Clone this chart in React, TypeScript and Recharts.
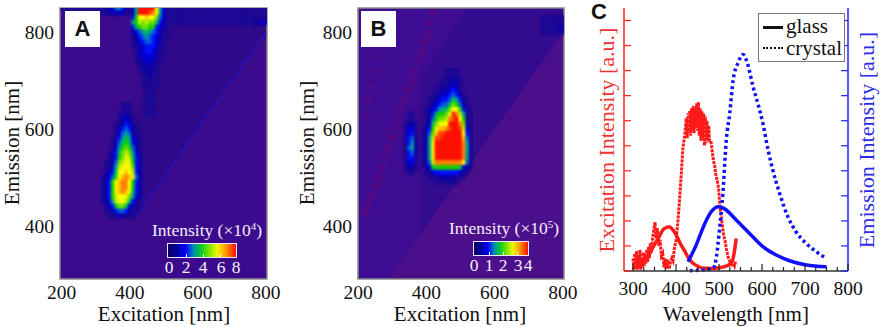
import React from "react";
import { ComposedChart, XAxis, YAxis, Scatter, Area, Line, ReferenceArea } from "recharts";

const SERIF = "'Liberation Serif', serif";
const PALETTE = ["none","#1c0894","#0c00a8","#0000d4","#0010ff","#0060d8","#00a098","#00c050","#18d000","#70e000","#c0f000","#f0f800","#ffff00","#ffc000","#ff8000","#ff4000","#ff1000"];

const emissionTicks = [400, 600, 800];
const excitationTicks = [200, 400, 600, 800];

// Heat map rows: first row is at yTop, going down 10 nm a row; each char a level 0..g
const aBlobRows = ["000000111000","000000111000","000001121100","000001232100","000011243110","000012454210","000013565211","000114676321","000125787421","000136898521","0011479a9632","0012489ba742","011259abb842","01136abcb942","01247bcdca42","12358bdedb52","1248bdeec842","1248bdeec842","1248bdedb742","1248accb9632","1236abba7421","012479973211","011245542110","001112211100"];
const aTopRows = ["26gggggc631","26gggfeb631","48ccdcb9531","68a9a997421","47899884321","23567654211","12456543211","12345543210","11234443110","01234432110","01233332100","01123321100","00122221000","00112211000","00011211000","00011111000","00011111000","00001110000","00001110000","00001110000","00001110000","00001110000","00001110000"];
const aTopLeftRows = ["111111111111122356421","000000000011112223211"];
const aTopRightRows = ["11111111111111111111111111111","11111111111111111111111111111","11111111111111111111111111111","11111111111111111111111112223"];
const bMainRows = ["000000011110000","000000011110000","000000112221000","000001112321000","000011223431000","000112334542100","001123445764110","001234557985210","012346679cb8411","01147889bgea611","0125899aefgc811","01379bbcggge921","0248bddefggfa31","1259dffgggggc41","126affggggggd51","126bgggggggge61","126bgggggggge61","126bgggggggge61","126bgggggggge61","125aeeeeeeeec51","023788888887321","011344444443110","001112222211100","000011111110000"];
const bSideRows = ["001100","001100","012210","013310","013410","014510","014620","015620","014520","014410","013310","012210","001100"];
const bRightRows = ["1111111","1111111","1111122","1111111"];
const chainX = [419, 410, 405, 396, 386, 376, 366, 357, 347, 337, 327, 318, 308, 298, 288, 279, 270, 260, 250, 240, 230, 220];
const chainY = [840, 820, 798, 780, 760, 740, 719, 700, 681, 662, 643, 623, 603, 582, 561, 540, 520, 500, 481, 462, 445, 427];
const chain2X = [259, 250, 240, 230, 220];
const chain2Y = [750, 719, 688, 660, 633];

const expand = (rows: string[], x0: number, yTop: number) =>
  rows.flatMap((r, i) => r.split("").map((c, j) => ({ x: x0 + j * 10, y: yTop - i * 10, v: parseInt(c, 17) }))).filter((d) => d.v > 0);

const heatA = [...expand(aBlobRows, 320, 650), ...expand(aTopRows, 410, 850), ...expand(aTopLeftRows, 200, 850), ...expand(aTopRightRows, 520, 850)];
const heatB = [...expand(bMainRows, 390, 720), ...expand(bSideRows, 330, 630), ...expand(bRightRows, 740, 830)];
const chainData = chainX.map((x, i) => ({ x, y: chainY[i] }));
const chain2Data = chain2X.map((x, i) => ({ x, y: chain2Y[i] }));

const aTint = [{ x: 420, band: [420, 620] }, { x: 480, band: [480, 830] }, { x: 800, band: [800, 850] }];
const aDiag = [{ x: 420, y: 420 }, { x: 800, y: 800 }, { x: 803, y: 803 }];
const bLower = [{ x: 293, band: [290, 293] }, { x: 803, band: [290, 803] }];
const bTint = [{ x: 380, band: [380, 700] }, { x: 520, band: [520, 850] }, { x: 803, band: [803, 850] }];

const cellW = 3.4;
const cellH = 4.84;
const HeatCell = (p: any) => (
  <rect x={p.cx - cellW / 2 - 0.3} y={p.cy - cellH / 2 - 0.3} width={cellW + 0.6} height={cellH + 0.6} fill={PALETTE[p.payload.v]} />
);
const ChainCell = (p: any) => <rect x={p.cx - 3.5} y={p.cy - 3.5} width={7} height={7} fill="#520a84" />;
const Chain2Cell = (p: any) => <rect x={p.cx - 3.5} y={p.cy - 3.5} width={7} height={7} fill="#4a0c88" />;

const tickStyle = { fontFamily: SERIF, fontSize: 19.5, fill: "#111" };

function Heat({ left, width, margin, domain, bg, heat, cls, extraBefore, extraAfter }: any) {
  return (
    <div style={{ position: "absolute", left, top: 0 }}>
      <ComposedChart width={width} height={327} margin={margin}>
        <XAxis dataKey="x" type="number" domain={domain} ticks={excitationTicks} tickSize={0} tickMargin={6} axisLine={false} height={48} tick={tickStyle} interval={0} />
        <YAxis dataKey="y" type="number" domain={[290, 850]} ticks={emissionTicks} tickSize={0} tickMargin={6} axisLine={false} width={60} tick={tickStyle} interval={0} />
        <ReferenceArea x1={domain[0]} x2={domain[1]} y1={290} y2={850} fill={bg} fillOpacity={1} stroke="none" />
        {extraBefore}
        <Scatter className={cls} data={heat} dataKey="y" shape={HeatCell} isAnimationActive={false} />
        {extraAfter}
        <ReferenceArea x1={domain[0]} x2={domain[1]} y1={290} y2={850} fill="none" stroke="#8a8a8a" strokeWidth={1.5} />
      </ComposedChart>
    </div>
  );
}

// Panel C
const excGlassX = [300, 310, 320, 330, 340, 350, 360, 370, 380, 384, 390, 400, 410, 420, 430, 440, 450, 460, 480, 500, 520, 530, 535, 540];
const excGlassV = [0.1, 0.2, 0.25, 0.45, 0.75, 1.05, 1.35, 1.65, 1.75, 1.77, 1.7, 1.45, 1.1, 0.8, 0.5, 0.3, 0.2, 0.12, 0.1, 0.13, 0.22, 0.35, 0.7, 1.3];
const excCrystalX = [300, 302, 304, 306, 308, 310, 312, 314, 316, 318, 320, 322, 324, 326, 328, 330, 332, 334, 336, 338, 340, 342, 345, 348, 351, 354, 357, 360, 363, 366, 369, 372, 375, 378, 381, 384, 387, 390, 393, 396, 400, 404, 408, 412, 416, 420, 424, 426, 428, 430, 432, 434, 436, 438, 440, 442, 444, 446, 448, 450, 452, 454, 456, 458, 460, 462, 464, 466, 468, 470, 472, 474, 476, 478, 481, 484, 487, 490, 493, 496, 499, 502, 505, 508, 511, 514, 517, 521, 526, 530, 533, 536, 539];
const excCrystalV = [0.5, 0.05, 0.7, 0.1, 0.8, 0.05, 0.6, 0.1, 0.85, 0.05, 0.5, 0.15, 0.75, 0.2, 0.65, 0.3, 0.85, 0.35, 0.95, 0.5, 1.1, 0.7, 1.2, 1.6, 1.95, 1.3, 1.7, 1.0, 1.25, 0.6, 0.7, 0.15, 0.5, 0.1, 0.45, 0.08, 0.35, 0.5, 0.4, 0.9, 1.2, 1.9, 2.8, 3.8, 4.9, 5.4, 6.1, 5.3, 6.3, 5.5, 6.4, 5.4, 6.5, 5.6, 6.6, 5.5, 6.5, 5.7, 6.7, 5.6, 6.75, 5.4, 6.5, 5.2, 6.4, 5.3, 6.3, 5.0, 6.2, 5.1, 6.0, 5.2, 5.8, 5.2, 5.2, 4.8, 4.4, 4.2, 3.8, 3.6, 3.3, 2.6, 2.2, 1.8, 1.4, 1.2, 0.9, 0.57, 0.35, 0.25, 0.3, 0.2, 0.4];
const emGlassX = [428, 447, 467, 482, 498, 513, 540, 571, 602, 633, 664, 703, 750];
const emGlassV = [0.37, 1.04, 1.9, 2.37, 2.57, 2.48, 2.04, 1.5, 0.97, 0.64, 0.41, 0.24, 0.17];
const emCrystalX = [432, 486, 494, 501, 509, 517, 525, 533, 544, 556, 567, 579, 590, 602, 614, 625, 641, 660, 679, 703, 726, 750];
const emCrystalV = [0.01, 0.1, 0.57, 1.64, 3.1, 5.24, 6.3, 7.64, 8.3, 8.64, 8.24, 7.37, 6.7, 5.9, 4.84, 4.04, 3.1, 2.17, 1.57, 1.1, 0.77, 0.5];
const zip = (xs: number[], vs: number[]) => xs.map((x, i) => ({ x, v: vs[i] }));

const wavelengthTicks = [300, 325, 350, 375, 400, 425, 450, 475, 500, 525, 550, 575, 600, 625, 650, 675, 700, 725, 750, 775, 800];
const intensityTicks = [0, 1, 2, 3, 4, 5, 6, 7, 8, 9, 10];

const BottomTick = (p: any) => {
  const major = p.payload.value % 100 === 0;
  return (
    <g>
      <line x1={p.x} x2={p.x} y1={271} y2={major ? 264 : 267} stroke="#222" strokeWidth={1.2} />
      {major && <text x={p.x} y={295} textAnchor="middle" {...tickStyle}>{p.payload.value}</text>}
    </g>
  );
};
const TopTick = (p: any) => {
  const major = p.payload.value % 100 === 0;
  return <line x1={p.x} x2={p.x} y1={8.5} y2={major ? 15 : 12} stroke="#222" strokeWidth={1.2} />;
};
const LeftTick = (p: any) => <line x1={60} x2={67} y1={p.y} y2={p.y} stroke="#ff2020" strokeWidth={1.2} />;
const RightTick = (p: any) => <line x1={284} x2={277} y1={p.y} y2={p.y} stroke="#2020ff" strokeWidth={1.2} />;

const abs = (left: number, top: number, extra: any = {}) => ({ position: "absolute", left, top, fontFamily: SERIF, whiteSpace: "nowrap", lineHeight: 1, ...extra });

const gradient = "linear-gradient(90deg,#0a0060 0%,#0000a0 14%,#0000ff 26%,#0090b0 38%,#00c830 48%,#60e000 58%,#f0f800 72%,#ff9000 86%,#ff1000 100%)";

function ColorBar({ sup, tx, ty, bx, by, bw, bh, labels, tickFracs }: any) {
  return (
    <>
      <div style={abs(tx, ty, { color: "#f4eefa", fontSize: 17.5 })}>
        Intensity (×10<span style={{ fontSize: 11, position: "relative", top: -6 }}>{sup}</span>)
      </div>
      <div style={{ position: "absolute", left: bx, top: by, width: bw, height: bh, boxSizing: "border-box", border: "1.5px solid #f0e8f8", background: gradient }}>
        {tickFracs.map((f: number) => (
          <div key={f} style={{ position: "absolute", left: `${f * 100}%`, bottom: 0, width: 1, height: 3, background: "#fff" }} />
        ))}
      </div>
      {labels.map(([t, x]: any) => (
        <div key={t} style={abs(x, by + bh + 1, { color: "#f4eefa", fontSize: 17.5, transform: "translateX(-50%)" })}>{t}</div>
      ))}
    </>
  );
}

const axisTitle = (t: string, cx: number, cy: number, size: number, color: string, rot: boolean) => (
  <div style={abs(cx, cy, { fontSize: size, color, transform: `translate(-50%,-50%)${rot ? " rotate(-90deg)" : ""}` })}>{t}</div>
);

const panelLabel = (t: string, left: number, top: number, box: boolean) => (
  <div style={{ position: "absolute", left, top, width: box ? 35 : 22, height: box ? 36 : 22, lineHeight: 1, background: box ? "#fff" : "none", fontFamily: "'Liberation Sans', sans-serif", fontWeight: 700, fontSize: 22, color: "#111", display: "flex", alignItems: "center", justifyContent: "center" }}>{t}</div>
);

export default function App() {
  return (
    <div style={{ position: "absolute", left: 0, top: 0, width: 880, height: 327, overflow: "hidden", background: "#fff" }}>
      <style>{`.heatA { filter: blur(1.2px); clip-path: url(#clipA); } .heatB { filter: blur(1.2px); clip-path: url(#clipB); }`}</style>
      <svg width={0} height={0} style={{ position: "absolute" }}>
        <defs>
          <clipPath id="clipA"><rect x={60} y={8} width={207} height={271} /></clipPath>
          <clipPath id="clipB"><rect x={60} y={8} width={206} height={271} /></clipPath>
        </defs>
      </svg>
      <Heat left={0} width={290} margin={{ top: 8, right: 23, bottom: 0, left: 0 }} domain={[195, 803]} bg="#3c0a8c" heat={heatA} cls="heatA"
        extraBefore={<Area data={aTint} dataKey="band" stroke="none" fill="#1c0a88" fillOpacity={0.45} isAnimationActive={false} dot={false} activeDot={false} />}
        extraAfter={<Line data={aDiag} dataKey="y" stroke="#1a18d0" strokeWidth={2} strokeDasharray="3 3" dot={false} activeDot={false} isAnimationActive={false} />} />
      <Heat left={298} width={290} margin={{ top: 8, right: 24, bottom: 0, left: 0 }} domain={[200, 803]} bg="#3d0c92" heat={heatB} cls="heatB"
        extraBefore={<>
          <Area data={bLower} dataKey="band" stroke="none" fill="#4c0f8c" fillOpacity={1} isAnimationActive={false} dot={false} activeDot={false} />
          <Area data={bTint} dataKey="band" stroke="none" fill="#2a0a8c" fillOpacity={0.5} isAnimationActive={false} dot={false} activeDot={false} />
          <Scatter data={chainData} dataKey="y" shape={ChainCell} isAnimationActive={false} />
          <Scatter data={chain2Data} dataKey="y" shape={Chain2Cell} isAnimationActive={false} />
        </>} />

      <div style={{ position: "absolute", left: 564, top: 0 }}>
        <ComposedChart width={316} height={327} margin={{ top: 8, right: 0, bottom: 0, left: 0 }}>
          <XAxis xAxisId="b" dataKey="x" type="number" domain={[279, 800]} ticks={wavelengthTicks} interval={0} height={56} axisLine={{ stroke: "#333", strokeWidth: 1.5 }} tickLine={false} tick={BottomTick} />
          <XAxis xAxisId="t" orientation="top" dataKey="x" type="number" domain={[279, 800]} ticks={wavelengthTicks} interval={0} height={0} axisLine={{ stroke: "#333", strokeWidth: 1.5 }} tickLine={false} tick={TopTick} />
          <YAxis yAxisId="l" type="number" domain={[0, 10.5]} ticks={intensityTicks} interval={0} width={60} axisLine={{ stroke: "#ff2020", strokeWidth: 1.5 }} tickLine={false} tick={LeftTick} />
          <YAxis yAxisId="r" orientation="right" type="number" domain={[0, 10.5]} ticks={intensityTicks} interval={0} width={32} axisLine={{ stroke: "#2020ff", strokeWidth: 1.5 }} tickLine={false} tick={RightTick} />
          <Line xAxisId="b" yAxisId="l" data={zip(excCrystalX, excCrystalV)} dataKey="v" stroke="#ff1a1a" strokeWidth={3} strokeDasharray="3 1" dot={false} activeDot={false} isAnimationActive={false} />
          <Line xAxisId="b" yAxisId="l" data={zip(excGlassX, excGlassV)} dataKey="v" stroke="#ff1a1a" strokeWidth={3.5} type="monotone" dot={false} activeDot={false} isAnimationActive={false} />
          <Line xAxisId="b" yAxisId="r" data={zip(emCrystalX, emCrystalV)} dataKey="v" stroke="#1010ff" strokeWidth={3.5} strokeDasharray="3 3" type="monotone" dot={false} activeDot={false} isAnimationActive={false} />
          <Line xAxisId="b" yAxisId="r" data={zip(emGlassX, emGlassV)} dataKey="v" stroke="#1010ff" strokeWidth={3.5} type="monotone" dot={false} activeDot={false} isAnimationActive={false} />
        </ComposedChart>
      </div>

      {panelLabel("A", 65, 11, true)}
      {panelLabel("B", 361, 11, true)}
      {panelLabel("C", 588, 1, false)}

      {axisTitle("Emission [nm]", 12, 143, 21, "#111", true)}
      {axisTitle("Excitation [nm]", 164, 314, 21, "#111", false)}
      {axisTitle("Emission [nm]", 307, 143, 21, "#111", true)}
      {axisTitle("Excitation [nm]", 460, 314, 21, "#111", false)}
      {axisTitle("Wavelength [nm]", 736, 314, 21, "#111", false)}
      {axisTitle("Excitation Intensity [a.u.]", 607, 140, 22, "#f03030", true)}
      {axisTitle("Emission Intensity [a.u.]", 867, 140, 22, "#2a2ae8", true)}

      <ColorBar sup="4" tx={152} ty={222} bx={167} by={243} bw={70} bh={15} tickFracs={[0.26, 0.51, 0.76]} labels={[["0", 169], ["2", 186], ["4", 203], ["6", 221], ["8", 236]]} />
      <ColorBar sup="5" tx={449} ty={220} bx={473} by={241} bw={56} bh={15} tickFracs={[0.27, 0.53, 0.8]} labels={[["0", 474], ["1", 489], ["2", 503], ["3", 518], ["4", 528]]} />

      <div style={{ position: "absolute", left: 758, top: 13, width: 87, height: 49, boxSizing: "border-box", background: "#fff", border: "1.5px solid #777" }} />
      <div style={{ position: "absolute", left: 763, top: 26, width: 20, height: 2.5, background: "#111" }} />
      <div style={{ position: "absolute", left: 763, top: 47, width: 20, height: 0, borderTop: "2.5px dotted #111" }} />
      <div style={abs(786, 16, { fontSize: 21, color: "#111" })}>glass</div>
      <div style={abs(786, 38, { fontSize: 21, color: "#111" })}>crystal</div>
    </div>
  );
}
